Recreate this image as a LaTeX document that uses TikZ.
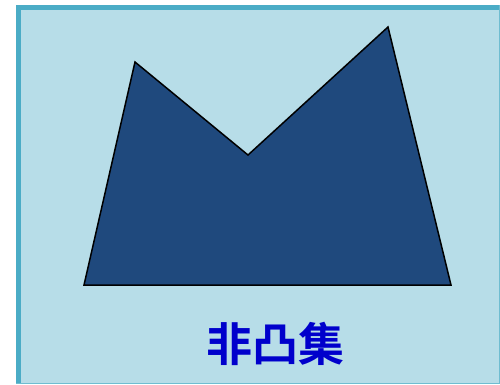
\documentclass[tikz,border=0pt]{standalone}
\usepackage{fontspec}
\newfontfamily\cjk{Noto Sans CJK SC}[BoldFont={Noto Sans CJK SC Bold}]
\definecolor{bgblue}{HTML}{B7DDE8}
\definecolor{frameblue}{HTML}{4BACC6}
\definecolor{shapeblue}{HTML}{1F497D}
\definecolor{textblue}{HTML}{0000CC}
\begin{document}
\begin{tikzpicture}[x=1pt,y=-1pt,
  shapestyle/.style={fill=shapeblue,draw=black,line width=1.5pt,line join=miter},
  labelstyle/.style={text=textblue,font=\cjk\bfseries\fontsize{46}{50}\selectfont,inner sep=0pt}]
\useasboundingbox (0,0) rectangle (500,384);
\fill[bgblue] (16,5) rectangle (500,384);
\fill[frameblue] (16,5) rectangle (21,384);
\fill[frameblue] (16,5) rectangle (500,10);
\fill[frameblue!80] (498.5,5) rectangle (500,384);
\fill[frameblue!80] (16,382.5) rectangle (500,384);
\coordinate (bl) at (84,285);
\coordinate (tl) at (135,62);
\coordinate (v) at (248,155);
\coordinate (tr) at (388,27);
\coordinate (br) at (451,285);
\draw[shapestyle] (bl) -- (tl) -- (v) -- (tr) -- (br) -- cycle;
\node[labelstyle] (lab) at (275,344) {非凸集};
\end{tikzpicture}
\end{document}
